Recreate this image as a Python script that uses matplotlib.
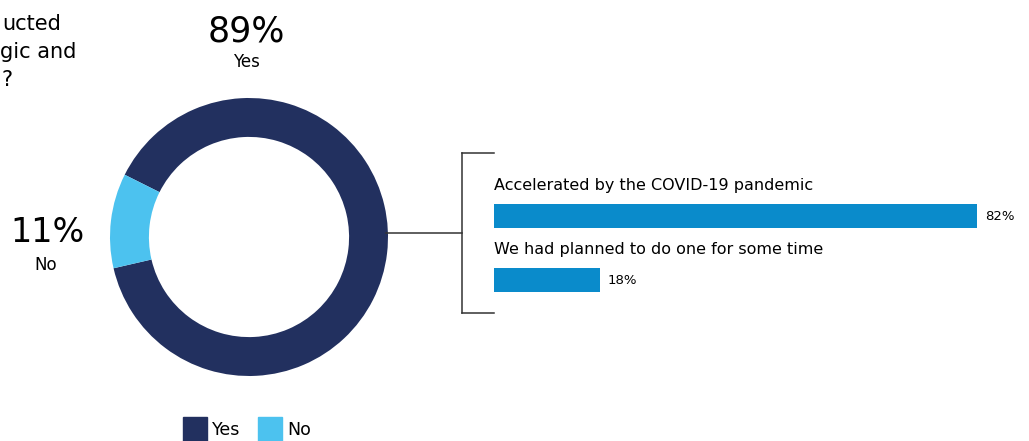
import numpy as np
import matplotlib.pyplot as plt
from matplotlib.lines import Line2D
from matplotlib.patches import Rectangle

###--- Data
pie_labels = ["Yes", "No"]
pie_values = [89, 11]
bar_labels = ["Accelerated by the COVID-19 pandemic",
              "We had planned to do one for some time"]
bar_values = [82, 18]
title_bits = ["ucted", "gic and", "?"]

navy = "#22305f"
light = "#4cc2ef"
blue = "#0a8bcb"

W, H = 1029, 441
fig = plt.figure(figsize=(W/100, H/100), dpi=100)

def fx(px):
    return px / W

def fy(py):
    return 1 - py / H

###--- Donut
cx, cy, r = 249, 237, 139
ax = fig.add_axes([fx(cx - r), fy(cy + r), 2*r/W, 2*r/H])
ax.pie(pie_values, colors=[navy, light], startangle=193, counterclock=True,
       wedgeprops=dict(width=0.28, edgecolor="none"))
ax.set_xlim(-1, 1)
ax.set_ylim(-1, 1)
ax.set_aspect("equal")
ax.axis("off")

fig.text(fx(246), fy(31), f"{pie_values[0]}%", fontsize=25, ha="center", va="center")
fig.text(fx(246), fy(62), pie_labels[0], fontsize=12, ha="center", va="center")
fig.text(fx(47), fy(233), f"{pie_values[1]}%", fontsize=24, ha="center", va="center")
fig.text(fx(46), fy(265), pie_labels[1], fontsize=12, ha="center", va="center")

# clipped question text at top left
for i, t in enumerate(title_bits):
    fig.text(fx([61, 76, 13][i]), fy(24 + 28*i), t, fontsize=15, ha="right", va="center")

###--- Connector and bracket
def seg(x0, y0, x1, y1):
    fig.add_artist(Line2D([fx(x0), fx(x1)], [fy(y0), fy(y1)], color="#333333", lw=1.1))

seg(386, 233, 462, 233)
seg(462, 153, 462, 313)
seg(462, 153, 494, 153)
seg(462, 313, 494, 313)

###--- Bars
top, bot = 152, 312
bx = fig.add_axes([fx(494), fy(bot), (1019 - 494)/W, (bot - top)/H])
ypos = np.arange(len(bar_values))
bx.barh(ypos, bar_values, height=0.375, color=blue)
bx.set_xlim(0, 525/5.89)
bx.set_ylim(1.5, -1.0)
bx.axis("off")
for y, v, lab in zip(ypos, bar_values, bar_labels):
    bx.text(0, y - 0.48, lab, fontsize=11.5, ha="left", va="center")
    bx.text(v + 1.3, y, f"{v}%", fontsize=9.5, ha="left", va="center")

###--- Legend
lx = [183, 258]
for x, c, lab in zip(lx, [navy, light], pie_labels):
    fig.add_artist(Rectangle((fx(x), fy(441)), 24/W, 24/H, color=c, transform=fig.transFigure))
    fig.text(fx(x + 29), fy(430), lab, fontsize=12.5, ha="left", va="center")

fig.savefig("out.png", dpi=100)
